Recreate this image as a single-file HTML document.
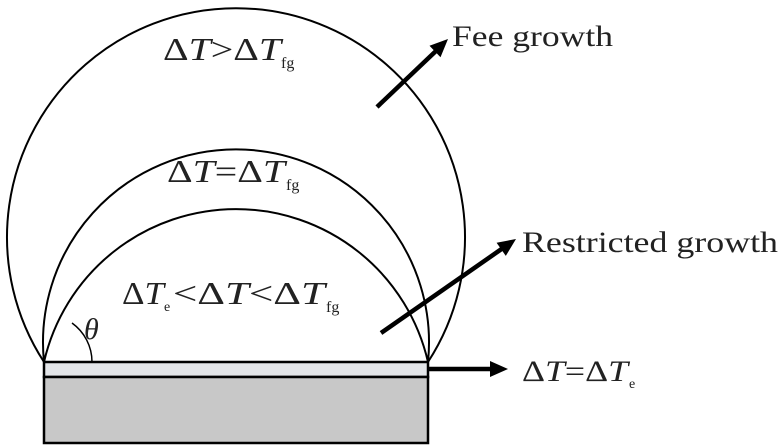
<!DOCTYPE html>
<html><head><meta charset="utf-8"><style>
html,body{margin:0;padding:0;background:#fff;}
svg{display:block;}
text{font-family:"Liberation Serif","Times New Roman",serif;fill:#222;}
</style></head><body>
<svg width="783" height="448" viewBox="0 0 783 448" xmlns="http://www.w3.org/2000/svg">
<rect x="44" y="362" width="384" height="15" fill="#e3e5e8" stroke="#000" stroke-width="2.5"/>
<rect x="44" y="377" width="384" height="66" fill="#c8c8c8" stroke="#000" stroke-width="2.5"/>
<path d="M44,362 A229,229 0 1 1 428,362" fill="none" stroke="#000" stroke-width="2"/>
<path d="M44,362 A193,193 0 1 1 428,362" fill="none" stroke="#000" stroke-width="2"/>
<path d="M44,362 A197,197 0 0 1 428,362" fill="none" stroke="#000" stroke-width="2"/>
<path d="M92,362 A48,48 0 0 0 72,323" fill="none" stroke="#000" stroke-width="1.5"/>
<text x="84" y="339" font-size="30" font-style="italic" font-family="Liberation Serif, serif">θ</text>
<line x1="377" y1="107" x2="437" y2="50" stroke="#000" stroke-width="4.5"/>
<polygon points="448,39 440.5,57.3 429.5,45.7" fill="#000"/>
<line x1="381" y1="333" x2="503" y2="248" stroke="#000" stroke-width="4.5"/>
<polygon points="516,239 505.8,255.9 496.6,242.7" fill="#000"/>
<line x1="428" y1="369" x2="492" y2="369" stroke="#000" stroke-width="4.5"/>
<polygon points="508,369 490,361 490,377" fill="#000"/>
<text x="452" y="46" font-size="30" textLength="161" lengthAdjust="spacingAndGlyphs" font-family="Liberation Serif, serif">Fee growth</text>
<text x="522" y="252" font-size="30" textLength="256" lengthAdjust="spacingAndGlyphs" font-family="Liberation Serif, serif">Restricted growth</text>
<text x="522" y="381" font-size="30" textLength="106" lengthAdjust="spacingAndGlyphs" font-family="Liberation Serif, serif">Δ<tspan font-style="italic">T</tspan>=Δ<tspan font-style="italic">T</tspan></text>
<text x="629" y="388" font-size="14" font-family="Liberation Serif, serif">e</text>
<text x="163" y="60" font-size="32" textLength="118" lengthAdjust="spacingAndGlyphs" font-family="Liberation Serif, serif">Δ<tspan font-style="italic">T</tspan>&gt;Δ<tspan font-style="italic">T</tspan></text>
<text x="281" y="68" font-size="16" font-family="Liberation Serif, serif">fg</text>
<text x="167" y="182" font-size="32" textLength="118" lengthAdjust="spacingAndGlyphs" font-family="Liberation Serif, serif">Δ<tspan font-style="italic">T</tspan>=Δ<tspan font-style="italic">T</tspan></text>
<text x="286" y="190" font-size="16" font-family="Liberation Serif, serif">fg</text>
<text x="122" y="304" font-size="32" textLength="42" lengthAdjust="spacingAndGlyphs" font-family="Liberation Serif, serif">Δ<tspan font-style="italic">T</tspan></text>
<text x="164" y="311" font-size="14" font-family="Liberation Serif, serif">e</text>
<text x="173" y="304" font-size="32" textLength="152" lengthAdjust="spacingAndGlyphs" font-family="Liberation Serif, serif">&lt;Δ<tspan font-style="italic">T</tspan>&lt;Δ<tspan font-style="italic">T</tspan></text>
<text x="326" y="312" font-size="16" font-family="Liberation Serif, serif">fg</text>
</svg>
</body></html>
